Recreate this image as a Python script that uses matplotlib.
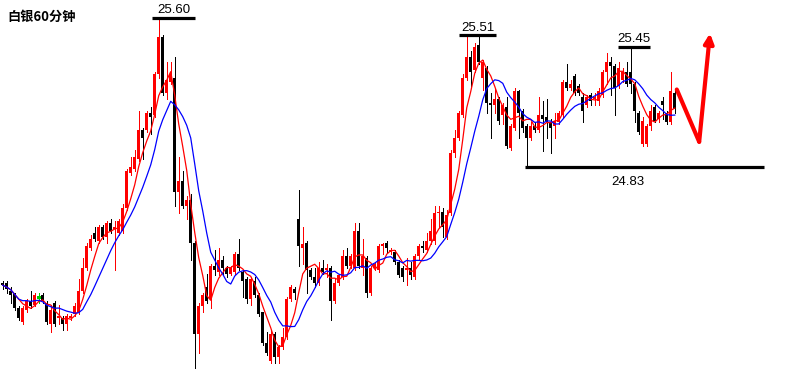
import numpy as np
import pandas as pd
import matplotlib
matplotlib.use('Agg')
import matplotlib.pyplot as plt

# Silver 60-minute candles
opens = [24.23, 24.23, 24.19, 24.18, 24.10, 24.03, 24.09, 24.14, 24.12, 24.16,
         24.17, 24.13, 24.02, 24.13, 24.05, 24.05, 24.02, 24.05, 24.07, 24.08,
         24.19, 24.31, 24.41, 24.49, 24.45, 24.52, 24.47, 24.54, 24.51, 24.49,
         24.50, 24.62, 24.80, 24.82, 24.87, 25.02, 25.02, 25.11, 25.10, 25.31,
         25.50, 25.21, 25.27, 25.29, 24.70, 24.76, 24.63, 24.66, 24.44, 23.97,
         24.11, 24.21, 24.15, 24.32, 24.29, 24.35, 24.31, 24.28, 24.29, 24.38,
         24.29, 24.25, 24.15, 24.24, 24.17, 24.08, 23.92, 23.83, 23.97, 23.85,
         23.90, 23.95, 24.15, 24.20, 24.56, 24.41, 24.44, 24.30, 24.26, 24.23,
         24.31, 24.30, 24.31, 24.14, 24.23, 24.26, 24.37, 24.32, 24.31, 24.50,
         24.31, 24.36, 24.18, 24.31, 24.30, 24.42, 24.44, 24.39, 24.39, 24.34,
         24.31, 24.30, 24.31, 24.26, 24.37, 24.42, 24.40, 24.45, 24.45, 24.59,
         24.60, 24.47, 24.59, 24.90, 24.98, 25.10, 25.29, 25.40, 25.33, 25.46,
         25.29, 25.34, 25.16, 25.15, 25.18, 25.10, 25.14, 24.93, 25.03, 25.22,
         25.12, 25.04, 24.98, 25.04, 25.02, 25.10, 25.09, 25.06, 25.04, 25.06,
         25.10, 25.27, 25.24, 25.30, 25.25, 25.19, 25.15, 25.20, 25.18, 25.17,
         25.20, 25.32, 25.37, 25.35, 25.25, 25.28, 25.32, 25.32, 25.26, 25.11,
         24.95, 24.95, 25.04, 25.14, 25.08, 25.17, 25.11, 25.06, 25.21]
highs = [24.24, 24.24, 24.21, 24.18, 24.11, 24.11, 24.15, 24.19, 24.18, 24.18,
         24.18, 24.14, 24.12, 24.14, 24.12, 24.06, 24.07, 24.07, 24.13, 24.25,
         24.36, 24.44, 24.48, 24.52, 24.53, 24.53, 24.55, 24.56, 24.55, 24.56,
         24.64, 24.82, 24.88, 24.92, 25.12, 25.03, 25.12, 25.14, 25.32, 25.59,
         25.51, 25.37, 25.37, 25.40, 24.88, 24.81, 24.68, 24.69, 24.45, 24.13,
         24.18, 24.28, 24.33, 24.40, 24.41, 24.37, 24.32, 24.32, 24.39, 24.46,
         24.30, 24.26, 24.26, 24.26, 24.18, 24.08, 23.98, 23.99, 23.98, 23.91,
         24.00, 24.16, 24.22, 24.21, 24.71, 24.52, 24.45, 24.31, 24.31, 24.34,
         24.35, 24.33, 24.32, 24.25, 24.28, 24.40, 24.41, 24.38, 24.54, 24.54,
         24.46, 24.37, 24.32, 24.34, 24.43, 24.44, 24.45, 24.41, 24.40, 24.35,
         24.32, 24.36, 24.34, 24.38, 24.43, 24.45, 24.49, 24.56, 24.63, 24.63,
         24.62, 24.61, 24.92, 25.02, 25.12, 25.31, 25.50, 25.43, 25.47, 25.50,
         25.38, 25.35, 25.21, 25.24, 25.19, 25.16, 25.19, 25.05, 25.24, 25.23,
         25.13, 25.05, 25.06, 25.06, 25.19, 25.17, 25.18, 25.08, 25.11, 25.12,
         25.28, 25.36, 25.28, 25.31, 25.26, 25.21, 25.20, 25.21, 25.21, 25.24,
         25.33, 25.42, 25.40, 25.36, 25.37, 25.34, 25.37, 25.45, 25.27, 25.12,
         25.09, 25.05, 25.15, 25.15, 25.12, 25.19, 25.12, 25.32, 25.23]
lows = [24.20, 24.18, 24.13, 24.09, 24.04, 24.02, 24.08, 24.10, 24.11, 24.13,
        24.13, 24.02, 23.98, 24.01, 24.02, 23.99, 23.99, 24.04, 24.06, 24.07,
        24.18, 24.30, 24.40, 24.45, 24.44, 24.46, 24.44, 24.49, 24.30, 24.48,
        24.49, 24.61, 24.79, 24.81, 24.86, 24.87, 25.01, 25.00, 25.09, 25.29,
        25.20, 25.18, 25.26, 24.63, 24.59, 24.62, 24.56, 24.35, 23.79, 23.87,
        24.08, 24.13, 24.10, 24.27, 24.27, 24.28, 24.26, 24.27, 24.28, 24.30,
        24.16, 24.13, 24.12, 24.16, 24.06, 23.91, 23.86, 23.82, 23.82, 23.82,
        23.89, 23.94, 24.14, 24.15, 24.32, 24.33, 24.18, 24.25, 24.21, 24.22,
        24.28, 24.26, 24.04, 24.13, 24.22, 24.25, 24.31, 24.31, 24.30, 24.31,
        24.27, 24.16, 24.17, 24.30, 24.29, 24.38, 24.39, 24.38, 24.33, 24.26,
        24.24, 24.22, 24.25, 24.25, 24.35, 24.39, 24.39, 24.43, 24.43, 24.52,
        24.47, 24.46, 24.58, 24.88, 24.97, 25.09, 25.28, 25.24, 25.32, 25.36,
        25.23, 25.11, 24.98, 25.11, 25.05, 25.05, 24.93, 24.92, 25.02, 24.98,
        25.01, 24.83, 24.97, 25.01, 25.01, 24.91, 24.98, 24.90, 24.98, 25.05,
        25.09, 25.23, 25.23, 25.20, 25.20, 25.06, 25.14, 25.15, 25.15, 25.15,
        25.19, 25.26, 25.20, 25.10, 25.24, 25.27, 25.25, 25.21, 25.06, 25.00,
        24.94, 24.94, 25.02, 25.06, 25.06, 25.08, 25.05, 25.05, 25.11]
closes = [24.22, 24.20, 24.17, 24.10, 24.05, 24.10, 24.14, 24.11, 24.17, 24.16,
          24.14, 24.03, 24.09, 24.02, 24.06, 24.02, 24.06, 24.06, 24.11, 24.19,
          24.31, 24.42, 24.46, 24.46, 24.52, 24.47, 24.54, 24.50, 24.52, 24.55,
          24.62, 24.81, 24.83, 24.88, 25.02, 24.98, 25.11, 25.09, 25.31, 25.50,
          25.21, 25.28, 25.31, 24.70, 24.76, 24.63, 24.66, 24.44, 23.97, 24.11,
          24.17, 24.14, 24.32, 24.30, 24.35, 24.31, 24.28, 24.31, 24.38, 24.31,
          24.24, 24.15, 24.25, 24.17, 24.07, 23.92, 23.87, 23.97, 23.85, 23.90,
          23.95, 24.15, 24.21, 24.18, 24.42, 24.43, 24.30, 24.26, 24.23, 24.31,
          24.29, 24.31, 24.14, 24.23, 24.27, 24.37, 24.32, 24.37, 24.50, 24.32,
          24.37, 24.18, 24.31, 24.33, 24.42, 24.43, 24.41, 24.40, 24.34, 24.27,
          24.26, 24.31, 24.27, 24.37, 24.42, 24.41, 24.45, 24.50, 24.59, 24.60,
          24.52, 24.58, 24.90, 24.98, 25.11, 25.29, 25.40, 25.32, 25.45, 25.37,
          25.37, 25.16, 25.15, 25.18, 25.07, 25.15, 24.94, 25.04, 25.22, 25.11,
          25.03, 24.98, 25.04, 25.02, 25.10, 25.08, 25.06, 25.03, 25.07, 25.11,
          25.27, 25.24, 25.26, 25.21, 25.21, 25.12, 25.19, 25.17, 25.19, 25.22,
          25.32, 25.37, 25.35, 25.24, 25.34, 25.32, 25.26, 25.26, 25.12, 25.01,
          25.07, 25.04, 25.12, 25.07, 25.11, 25.15, 25.06, 25.22, 25.13]

# marked price levels: label value, first/last candle index the line spans
levels = [25.60, 25.51, 25.45, 24.83]
level_spans = [(37.3, 48.1), (114.1, 123.3), (153.9, 161.7), (130.6, 190.2)]
level_labels = ['25.60', '25.51', '25.45', '24.83']

# hand-drawn forecast arrow (candle index, price)
arrow_x = [168.5, 174.1, 176.8]
arrow_y = [25.23, 24.96, 25.52]

df = pd.DataFrame({'open': opens, 'high': highs, 'low': lows, 'close': closes})
df['ma5'] = df['close'].rolling(5, min_periods=1).mean()
df['ma10'] = df['close'].rolling(10, min_periods=1).mean()
idx = np.arange(len(df))

colors = np.where(df['close'] > df['open'], '#ff0000',
                  np.where(df['close'] < df['open'], '#000000', '#00cc00'))

fig = plt.figure(figsize=(7.86, 3.77), dpi=100)
ax = fig.add_axes([0, 0, 1, 1])
ax.set_xlim(-0.675, 195.8)
ax.set_ylim(23.746, 25.692)
ax.axis('off')

# wicks
ax.vlines(idx, df['low'], df['high'], colors=colors, linewidth=0.6,
          antialiased=False, zorder=2)
# bodies
body = df['close'] - df['open']
ax.bar(idx, body, bottom=df['open'], width=0.76, color=colors,
       linewidth=0, antialiased=False, zorder=3)
# dojis
doji = body == 0
ax.hlines(df['open'][doji], idx[doji] - 0.4, idx[doji] + 0.4,
          colors=colors[doji], linewidth=0.9, antialiased=False, zorder=3)

# moving averages
ax.plot(idx, df['ma5'], color='#ff0000', linewidth=0.9, zorder=4)
ax.plot(idx, df['ma10'], color='#0000ff', linewidth=0.9, zorder=4)

# price levels with labels
for lv, (x0, x1), lab in zip(levels, level_spans, level_labels):
    ax.hlines(lv, x0, x1, colors='black', linewidth=2.3, zorder=5)
    if lv == 24.83:
        ax.text(156.2, lv - 0.045, lab, ha='center', va='top', fontsize=9.5,
                family='Liberation Sans', color='black')
    else:
        ax.text((x0 + x1) / 2, lv + 0.008, lab, ha='center', va='bottom',
                fontsize=9.5, family='Liberation Sans', color='black')

# forecast arrow
ax.plot(arrow_x[:2], arrow_y[:2], color='#ff0000', linewidth=3,
        solid_capstyle='round', zorder=6)
ax.annotate('', xy=(arrow_x[2], arrow_y[2]), xytext=(arrow_x[1], arrow_y[1]),
            arrowprops=dict(arrowstyle='-|>', color='#ff0000', lw=3,
                            mutation_scale=14, shrinkA=0, shrinkB=0),
            zorder=6)

# title
ax.text(0.01, 0.955, '白银60分钟', transform=ax.transAxes, ha='left',
        va='center', fontsize=9.5, fontweight='bold',
        family=['Noto Sans CJK SC', 'DejaVu Sans'], color='black')

fig.savefig('out.png', dpi=100, facecolor='white')
